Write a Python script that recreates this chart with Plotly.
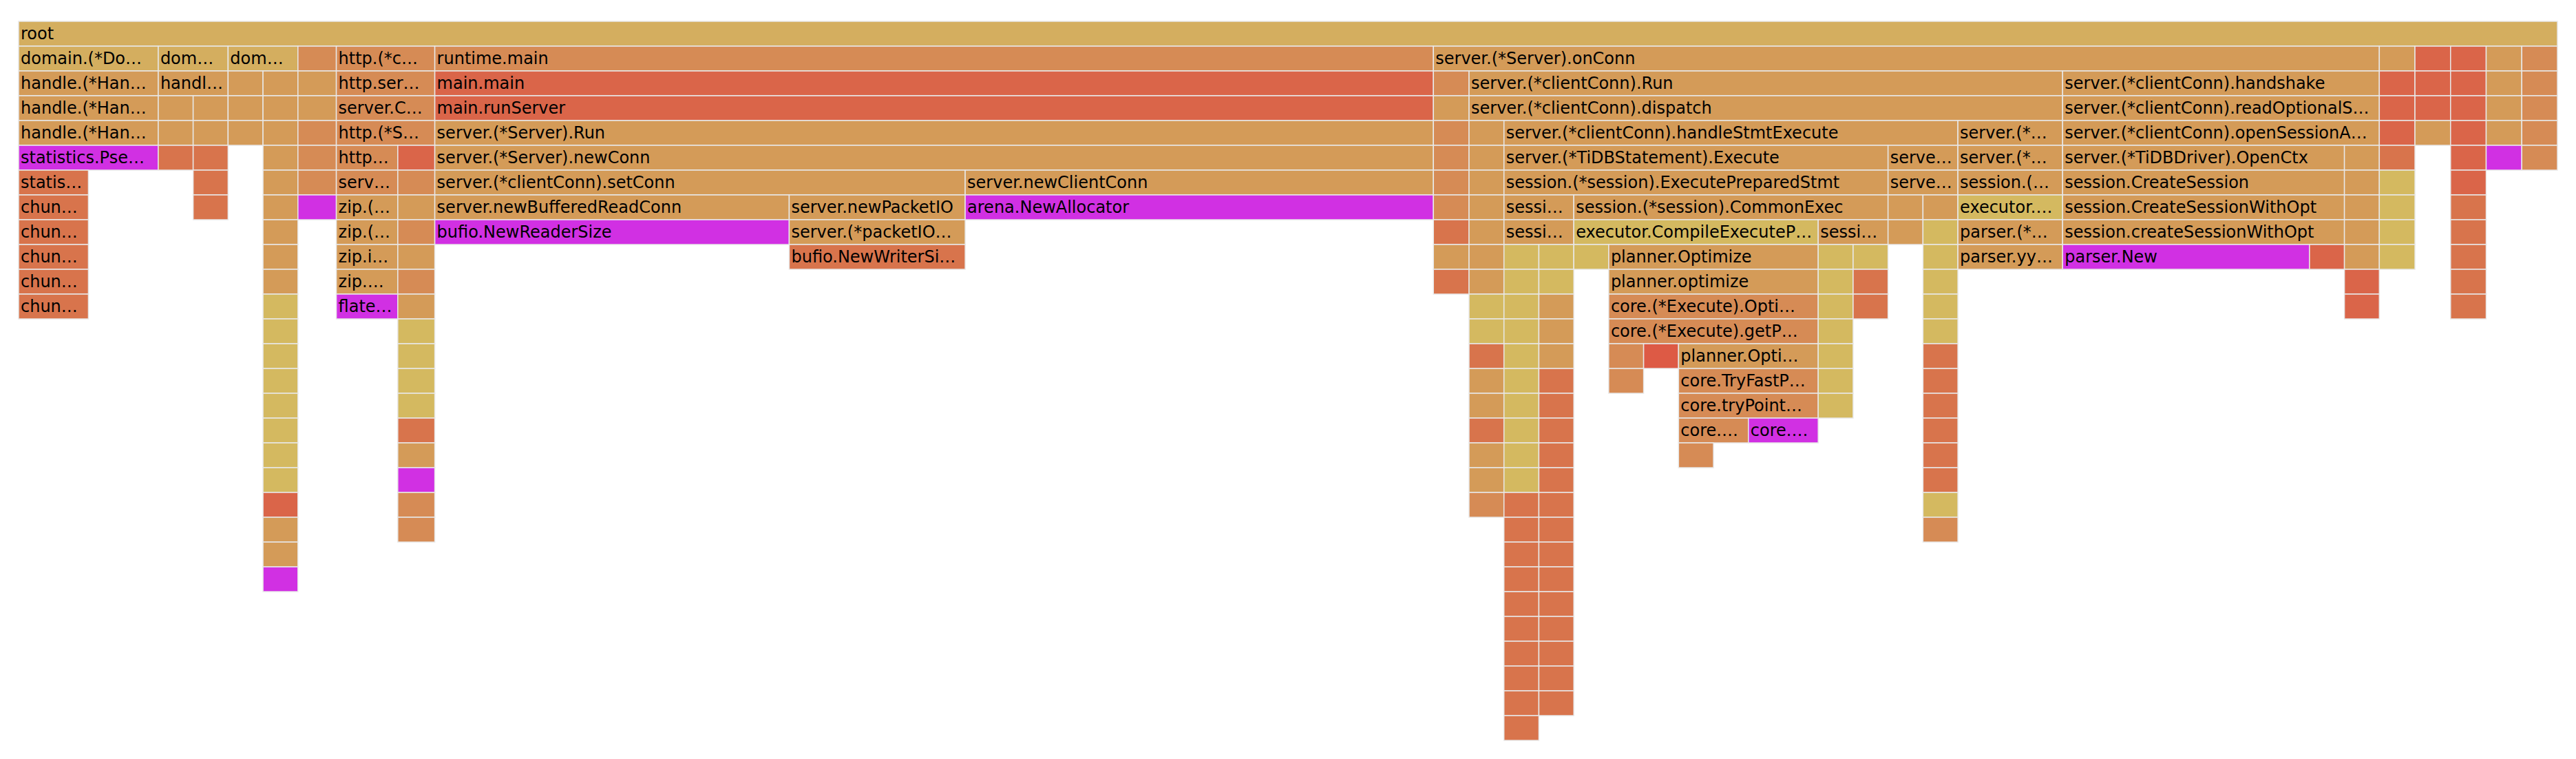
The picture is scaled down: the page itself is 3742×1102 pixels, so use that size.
import plotly.graph_objects as go

# ---------------- data (flame graph frames in pre-order) ----------------
# colour keys
palette = {
    "G": "#D4AE5F",  # gold
    "Y": "#D4B960",  # yellow
    "T": "#D49B58",  # tan
    "O": "#D68B55",  # orange
    "D": "#D8744C",  # dark orange
    "R": "#DA6549",  # red
    "B": "#DD5A45",  # bright red
    "M": "#D130E3",  # magenta
}

E = "…"

frame_depth = (
    [0]
    + list(range(1, 12))
    + [1, 2, 3, 4, 5, 3, 4, 5, 6, 7]
    + [1, 2, 3, 4] + list(range(2, 23))
    + list(range(1, 8))
    + list(range(1, 12)) + list(range(5, 21))
    + [1, 2, 3, 4, 5, 6, 7, 8, 7, 8, 9, 6, 7]
    + [1] + list(range(2, 11))
    + [2, 3] + list(range(4, 20))
    + [4, 5, 6, 7, 8] + list(range(9, 29)) + list(range(9, 28))
    + [7, 8, 9, 9, 10, 11, 12, 13, 14, 13, 13, 14, 15, 16, 17, 16]
    + [8] + list(range(9, 16)) + list(range(9, 12))
    + [5, 6] + [7, 8] + list(range(7, 21))
    + list(range(4, 10))
    + [2, 3, 4, 5, 6, 7, 8, 9, 9] + list(range(5, 12))
    + list(range(1, 10)) + list(range(1, 5)) + list(range(1, 12))
    + list(range(1, 6)) + list(range(1, 6))
)

frame_label = (
    ["root"]
    + ["domain.(*Do" + E, "handle.(*Han" + E, "handle.(*Han" + E, "handle.(*Han" + E,
       "statistics.Pse" + E, "statis" + E] + ["chun" + E] * 5
    + ["dom" + E, "handl" + E] + [""] * 8
    + ["dom" + E] + [""] * 3 + [""] * 21
    + [""] * 7
    + ["http.(*c" + E, "http.ser" + E, "server.C" + E, "http.(*S" + E, "http" + E,
       "serv" + E, "zip.(" + E, "zip.(" + E, "zip.i" + E, "zip." + E, "flate" + E] + [""] * 16
    + ["runtime.main", "main.main", "main.runServer", "server.(*Server).Run",
       "server.(*Server).newConn", "server.(*clientConn).setConn",
       "server.newBufferedReadConn", "bufio.NewReaderSize", "server.newPacketIO",
       "server.(*packetIO" + E, "bufio.NewWriterSi" + E, "server.newClientConn",
       "arena.NewAllocator"]
    + ["server.(*Server).onConn"] + [""] * 9
    + ["server.(*clientConn).Run", "server.(*clientConn).dispatch"] + [""] * 16
    + ["server.(*clientConn).handleStmtExecute", "server.(*TiDBStatement).Execute",
       "session.(*session).ExecutePreparedStmt", "sessi" + E, "sessi" + E] + [""] * 20 + [""] * 19
    + ["session.(*session).CommonExec", "executor.CompileExecuteP" + E, "", "planner.Optimize",
       "planner.optimize", "core.(*Execute).Opti" + E, "core.(*Execute).getP" + E, "", "", "",
       "planner.Opti" + E, "core.TryFastP" + E, "core.tryPoint" + E, "core." + E, "", "core." + E]
    + ["sessi" + E] + [""] * 7 + [""] * 3
    + ["serve" + E, "serve" + E] + [""] * 2 + [""] * 14
    + ["server.(*" + E, "server.(*" + E, "session.(" + E, "executor." + E, "parser.(*" + E,
       "parser.yy" + E]
    + ["server.(*clientConn).handshake", "server.(*clientConn).readOptionalS" + E,
       "server.(*clientConn).openSessionA" + E, "server.(*TiDBDriver).OpenCtx",
       "session.CreateSession", "session.CreateSessionWithOpt", "session.createSessionWithOpt",
       "parser.New", ""] + [""] * 7
    + [""] * 9 + [""] * 4 + [""] * 11 + [""] * 5 + [""] * 5
)

frame_value = (
    [7271]
    + [400, 400, 400, 400, 400, 200, 200, 200, 200, 200, 200]
    + [200, 200, 100, 100, 100, 100, 100, 100, 100, 100]
    + [200, 100, 100, 100] + [100] * 21
    + [110] * 7
    + [282] * 4 + [176] * 7 + [106] * 16
    + [2860, 2860, 2860, 2860, 2860, 1519, 1015, 1015, 504, 504, 504, 1341, 1341]
    + [2709] + [102] * 9
    + [1700, 1700] + [100] * 16
    + [1300, 1100, 1100, 200, 200] + [100] * 20 + [100] * 19
    + [900, 700, 100, 600, 600, 600, 600, 100, 100, 100, 400, 400, 400, 200, 100, 200]
    + [200] + [100] * 7 + [100] * 3
    + [200, 200] + [100] * 2 + [100] * 14
    + [300] * 6
    + [907, 907, 907, 807, 807, 807, 807, 707, 100] + [100] * 7
    + [102] * 9 + [102] * 4 + [102] * 11 + [102] * 5 + [102] * 5
)

frame_color = list(
    "G"
    + "GTTTMDDDDDD"
    + "GTTTDTTDDD"
    + "GTTT" + "TTTTTTTTTYYYYYYYYRTTM"
    + "OTTOOOM"
    + "OOOOOOTTTTM" + "ROTOTOTYYYYDTMOO"
    + "ORRTTTTMTTDTM"
    + "T" + "OTOOOODTD"
    + "TT" + "TTTTTTTYYDTTDTTO"
    + "TTTTT" + "YYYYYYYYYYDDDDDDDDDD" + "YYTTTDDDDDDDDDDDDDD"
    + "TYYTTOOOOBTOOOOM"
    + "T" + "YYYYYYY" + "YDD"
    + "TT" + "TT" + "TYYYYYDDDDDDYO"
    + "TTTYTT"
    + "TTTTTTTMR" + "TTTTTRR"
    + "TRRRDYYYY" + "RRRT" + "RRRRRRDDDDD" + "TTTTM" + "OOOOO"
)

# ---------------- build hierarchy ----------------
assert len(frame_depth) == len(frame_label) == len(frame_value) == len(frame_color)
ids, parents = [], []
last_at_depth = {}
for i, d in enumerate(frame_depth):
    ids.append(f"f{i}")
    parents.append("" if d == 0 else last_at_depth[d - 1])
    last_at_depth[d] = f"f{i}"

txt_font = dict(family="DejaVu Sans", size=24, color="#000000")

fig = go.Figure(
    go.Icicle(
        ids=ids,
        labels=frame_label,
        parents=parents,
        values=frame_value,
        branchvalues="total",
        sort=False,
        marker=dict(colors=[palette[c] for c in frame_color],
                    line=dict(color="#e8e8e8", width=1.5)),
        leaf=dict(opacity=1),
        tiling=dict(orientation="v", pad=0),
        pathbar=dict(visible=False),
        textinfo="label",
        textposition="middle left",
        insidetextfont=txt_font,
        outsidetextfont=txt_font,
        textfont=txt_font,
        hoverinfo="skip",
    )
)

fig.update_layout(
    width=3742,
    height=1102,
    margin=dict(l=27, r=27, t=31, b=27),
    paper_bgcolor="white",
    plot_bgcolor="white",
    uniformtext=dict(minsize=24, mode="show"),
    showlegend=False,
)

fig.write_html("out.html",
               config={"displayModeBar": False},
               post_script="document.body.style.margin='0';document.body.style.padding='0';")
